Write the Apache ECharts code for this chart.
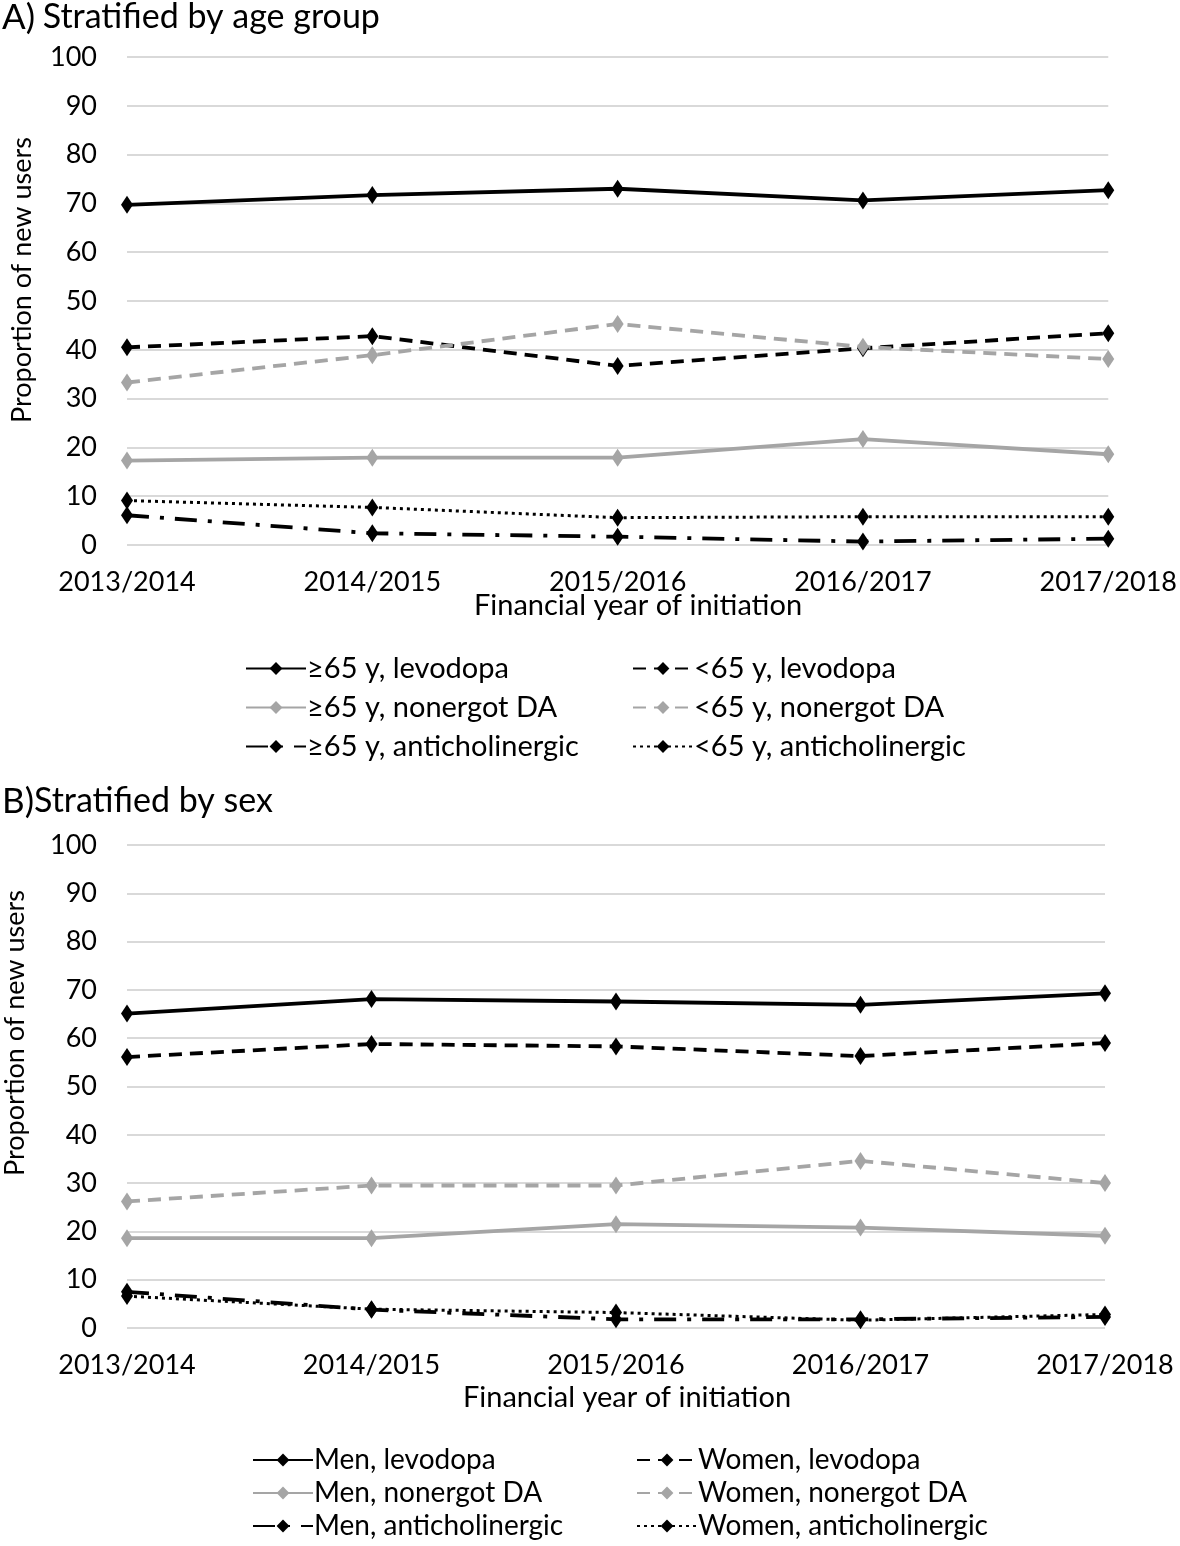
<!DOCTYPE html>
<html>
<head>
<meta charset="utf-8">
<script src="https://cdn.jsdelivr.net/npm/echarts@6/dist/echarts.min.js"></script>
<style>
html,body{margin:0;padding:0;background:#fff;}
#chart{width:1180px;height:1546px;}
</style>
</head>
<body>
<div id="chart"></div>
<script>
const categories = ['2013/2014','2014/2015','2015/2016','2016/2017','2017/2018'];

// Panel A: stratified by age group
const old_levodopa   = [69.7, 71.7, 73.0, 70.6, 72.7];
const young_levodopa = [40.5, 42.8, 36.7, 40.3, 43.4];
const old_nonergot   = [17.3, 17.9, 17.9, 21.7, 18.6];
const young_nonergot = [33.3, 38.9, 45.3, 40.6, 38.1];
const old_anticho    = [6.1, 2.4, 1.7, 0.7, 1.3];
const young_anticho  = [9.1, 7.7, 5.6, 5.8, 5.8];

// Panel B: stratified by sex
const men_levodopa   = [65.1, 68.1, 67.6, 66.9, 69.3];
const women_levodopa = [56.1, 58.8, 58.3, 56.3, 59.0];
const men_nonergot   = [18.6, 18.6, 21.5, 20.8, 19.1];
const women_nonergot = [26.2, 29.5, 29.5, 34.6, 30.0];
const men_anticho    = [7.5, 3.8, 1.8, 1.8, 2.3];
const women_anticho  = [6.6, 3.9, 3.2, 1.6, 2.8];

const yTicks = [0,10,20,30,40,50,60,70,80,90,100];

const FONT = 'Lato';
const BLACK = '#000000';
const GRAY = '#a5a5a5';

function mk(name, data, idx, color, type, width){
  return {
    name: name, type: 'line', data: data,
    xAxisIndex: idx, yAxisIndex: idx,
    symbol: 'diamond', symbolSize: [12, 18],
    itemStyle: {color: color},
    lineStyle: {color: color, width: width || 3.8, type: type},
    emphasis: {disabled: true},
    animation: false
  };
}

const DASH = [13, 8];
const DASHDOT = [22, 11, 4, 11];
const DOT = [3, 4];

const seriesA = [
  mk('≥65 y, levodopa', old_levodopa, 0, BLACK, 'solid'),
  mk('<65 y, levodopa', young_levodopa, 0, BLACK, DASH),
  mk('≥65 y, nonergot DA', old_nonergot, 0, GRAY, 'solid'),
  mk('<65 y, nonergot DA', young_nonergot, 0, GRAY, DASH),
  mk('≥65 y, anticholinergic', old_anticho, 0, BLACK, DASHDOT),
  mk('<65 y, anticholinergic', young_anticho, 0, BLACK, DOT, 3)
];
const seriesB = [
  mk('Men, levodopa', men_levodopa, 1, BLACK, 'solid'),
  mk('Women, levodopa', women_levodopa, 1, BLACK, DASH),
  mk('Men, nonergot DA', men_nonergot, 1, GRAY, 'solid'),
  mk('Women, nonergot DA', women_nonergot, 1, GRAY, DASH),
  mk('Men, anticholinergic', men_anticho, 1, BLACK, DASHDOT),
  mk('Women, anticholinergic', women_anticho, 1, BLACK, DOT, 3)
];

function xAx(idx, margin){
  return {
    gridIndex: idx, type: 'category', data: categories, boundaryGap: false,
    axisLine: {show: false}, axisTick: {show: false},
    axisLabel: {fontFamily: FONT, fontSize: 27, color: '#000', margin: margin}
  };
}
function yAx(idx){
  return {
    gridIndex: idx, type: 'value', min: yTicks[0], max: yTicks[yTicks.length-1], interval: 10,
    axisLine: {show: false}, axisTick: {show: false},
    axisLabel: {fontFamily: FONT, fontSize: 27, color: '#000', margin: 30},
    splitLine: {lineStyle: {color: '#d9d9d9', width: 2}}
  };
}
function leg(names, left, top, gap, lh, fs){
  return {
    data: names, orient: 'vertical', left: left, top: top, padding: 0,
    width: 380, height: 130,
    itemWidth: 60, itemHeight: 16, itemGap: gap,
    textStyle: {fontFamily: FONT, fontSize: fs, lineHeight: lh, color: '#000', padding: [0,0,0,-4]},
    selectedMode: false
  };
}

const chart = echarts.init(document.getElementById('chart'), null, {renderer: 'canvas'});
chart.setOption({
  backgroundColor: '#fff',
  animation: false,
  grid: [
    {left: 127, right: 70, top: 57, height: 488},
    {left: 127, right: 75, top: 845, height: 483}
  ],
  xAxis: [xAx(0, 24), xAx(1, 24)],
  yAxis: [yAx(0), yAx(1)],
  legend: [
    leg([seriesA[0].name, seriesA[2].name, seriesA[4].name], 245, 654, 10, 28, 29),
    leg([seriesA[1].name, seriesA[3].name, seriesA[5].name], 632, 654, 10, 28, 29),
    leg([seriesB[0].name, seriesB[2].name, seriesB[4].name], 252, 1446, 5, 26, 28),
    leg([seriesB[1].name, seriesB[3].name, seriesB[5].name], 636, 1446, 5, 26, 28)
  ],
  graphic: [
    {type: 'text', left: 2, top: 0, style: {
      text: '{a|A)}{s| }{b|Stratified by age group}',
      rich: {a: {fontFamily: FONT, fontSize: 35, fill: '#000'}, s: {fontFamily: FONT, fontSize: 30}, b: {fontFamily: FONT, fontSize: 34, fill: '#000'}}
    }},
    {type: 'text', left: 2, top: 784, style: {
      text: '{a|B)}{b|Stratified by sex}',
      rich: {a: {fontFamily: FONT, fontSize: 35, fill: '#000'}, b: {fontFamily: FONT, fontSize: 34, fill: '#000'}}
    }},
    {type: 'text', x: 22, y: 280, rotation: Math.PI/2, style: {
      text: 'Proportion of new users', fontFamily: FONT, fontSize: 27, fill: '#000',
      align: 'center', verticalAlign: 'middle'
    }},
    {type: 'text', x: 15, y: 1033, rotation: Math.PI/2, style: {
      text: 'Proportion of new users', fontFamily: FONT, fontSize: 27, fill: '#000',
      align: 'center', verticalAlign: 'middle'
    }},
    {type: 'text', x: 638, y: 606, style: {
      text: 'Financial year of initiation', fontFamily: FONT, fontSize: 29, fill: '#000',
      align: 'center', verticalAlign: 'middle'
    }},
    {type: 'text', x: 627, y: 1398, style: {
      text: 'Financial year of initiation', fontFamily: FONT, fontSize: 29, fill: '#000',
      align: 'center', verticalAlign: 'middle'
    }}
  ],
  series: seriesA.concat(seriesB)
});
</script>
</body>
</html>
